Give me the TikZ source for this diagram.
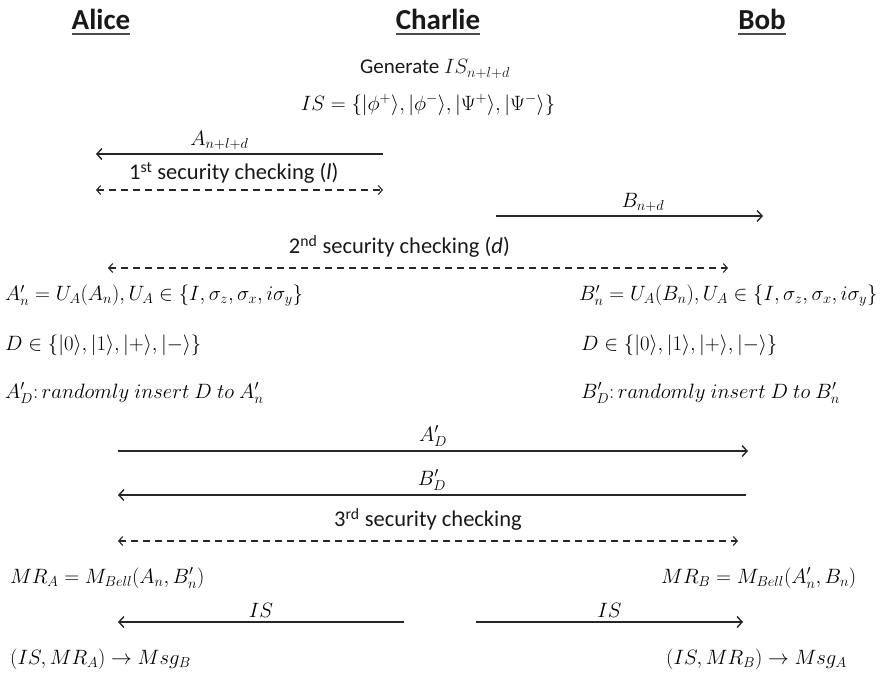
\documentclass[tikz,border=0pt]{standalone}
\usepackage{fontspec}
\setmainfont{Carlito}
\usetikzlibrary{arrows.meta,positioning}

\begin{document}
\begin{tikzpicture}[x=1pt,y=-1pt,
  party/.style={font=\fontsize{29}{32}\selectfont\bfseries,inner sep=0pt,anchor=base,text=black!90},
  uline/.style={line width=2pt,black!70},
  txt/.style={font=\fontsize{22.5}{26}\selectfont,inner sep=0pt,text=black!90},
  eq/.style={font=\fontsize{22.5}{26}\selectfont,inner sep=0pt,anchor=west,text=black},
  lbl/.style={font=\fontsize{22}{26}\selectfont,inner sep=0pt,text=black},
  msg/.style={-{Straight Barb[length=5pt,width=11pt]},line width=1.4pt,black!85},
  check/.style={{Straight Barb[length=4pt,width=9pt]}-{Straight Barb[length=4pt,width=9pt]},dash pattern=on 7pt off 5pt,line width=1.1pt,black!85}
]
\useasboundingbox (0,0) rectangle (896,672);

% parties
\node[party] (alice) at (101,29) {Alice};
\node[party] (charlie) at (438,29) {Charlie};
\node[party] (bob) at (762,29) {Bob};
\foreach \p in {alice,charlie,bob}
  \draw[uline] ([yshift=-5pt]\p.base west) -- ([yshift=-5pt]\p.base east);

% Charlie prepares the Bell states
\node[txt,font=\fontsize{21}{24}\selectfont] (gen) at (435,69) {Generate $IS_{n+l+d}$};
\node[lbl] (bell) at (428,105) {$IS=\{|\phi^+\rangle,|\phi^-\rangle,|\Psi^+\rangle,|\Psi^-\rangle\}$};

% distribution and first two checks
\coordinate (c1) at (383,154);
\coordinate (a1) at (96,154);
\draw[msg] (c1) -- node[lbl,above=4pt,pos=.57]{$A_{n+l+d}$} (a1);
\coordinate (a2) at (96,190);
\coordinate (c2) at (383,190);
\draw[check] (a2) -- node[txt,above=6pt,pos=.48]{1\textsuperscript{st} security checking (\textit{l})} (c2);
\coordinate (c3) at (496,216);
\coordinate (b3) at (763,216);
\draw[msg] (c3) -- node[lbl,above=4pt,pos=.55]{$B_{n+d}$} (b3);
\coordinate (a4) at (108,268);
\coordinate (b4) at (728,268);
\draw[check] (a4) -- node[txt,above=10pt,pos=.47]{2\textsuperscript{nd} security checking (\textit{d})} (b4);

% encoding on both sides
\node[eq] (encA) at (5,296) {$A'_n=U_A(A_n),U_A\in\{I,\sigma_z,\sigma_x,i\sigma_y\}$};
\node[eq] (decA) at (5,345) {$D\in\{|0\rangle,|1\rangle,|+\rangle,|-\rangle\}$};
\node[eq] (insA) at (5,393) {$A'_D\colon randomly\ insert\ D\ to\ A'_n$};
\node[eq] (encB) at (579,296) {$B'_n=U_A(B_n),U_A\in\{I,\sigma_z,\sigma_x,i\sigma_y\}$};
\node[eq] (decB) at (581,345) {$D\in\{|0\rangle,|1\rangle,|+\rangle,|-\rangle\}$};
\node[eq] (insB) at (581,393) {$B'_D\colon randomly\ insert\ D\ to\ B'_n$};

% exchange and third check
\coordinate (a5) at (118,451);
\coordinate (b5) at (748,451);
\draw[msg] (a5) -- node[lbl,above=4pt]{$A'_D$} (b5);
\coordinate (b6) at (746,495);
\coordinate (a6) at (118,495);
\draw[msg] (b6) -- node[lbl,above=4pt]{$B'_D$} (a6);
\coordinate (a7) at (118,541);
\coordinate (b7) at (738,541);
\draw[check] (a7) -- node[txt,above=10pt]{3\textsuperscript{rd} security checking} (b7);

% Bell measurements
\node[eq] (mrA) at (10,578) {$MR_A=M_{Bell}(A_n,B'_n)$};
\node[eq] (mrB) at (661,578) {$MR_B=M_{Bell}(A'_n,B_n)$};
\coordinate (c8) at (404,622);
\coordinate (a8) at (118,622);
\draw[msg] (c8) -- node[lbl,above=4pt]{$IS$} (a8);
\coordinate (c9) at (476,622);
\coordinate (b9) at (743,622);
\draw[msg] (c9) -- node[lbl,above=4pt]{$IS$} (b9);
\node[eq] (msgB) at (10,659) {$(IS,MR_A)\to Msg_B$};
\node[eq] (msgA) at (666,659) {$(IS,MR_B)\to Msg_A$};
\end{tikzpicture}
\end{document}
